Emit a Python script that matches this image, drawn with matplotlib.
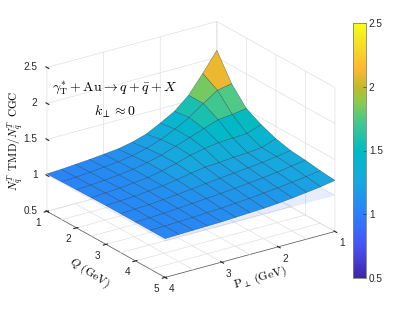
import numpy as np
import matplotlib
matplotlib.use("Agg")
from matplotlib import pyplot as plt
from matplotlib.colors import LinearSegmentedColormap, Normalize
from matplotlib.cm import ScalarMappable

plt.rcParams['font.family'] = ['Liberation Sans', 'DejaVu Sans']
plt.rcParams['mathtext.fontset'] = 'cm'

# grid of the surface
q_vals = [1.0, 1.5, 2.0, 2.5, 3.0, 3.5, 4.0, 4.5, 5.0]
p_vals = [1.0, 1.25, 1.5, 1.75, 2.0, 2.25, 2.5, 2.75, 3.0, 3.25, 3.5, 3.75, 4.0]

# ratio, one row per Q, one column per P
ratio_q10 = [2.10, 1.83, 1.58, 1.41, 1.30, 1.20, 1.14, 1.10, 1.08, 1.06, 1.045, 1.03, 1.02]
ratio_q15 = [1.75, 1.71, 1.58, 1.44, 1.33, 1.24, 1.17, 1.12, 1.09, 1.07, 1.05, 1.035, 1.025]
ratio_q20 = [1.52, 1.49, 1.47, 1.40, 1.33, 1.26, 1.19, 1.14, 1.10, 1.075, 1.055, 1.04, 1.03]
ratio_q25 = [1.41, 1.34, 1.33, 1.32, 1.29, 1.25, 1.19, 1.14, 1.10, 1.08, 1.06, 1.045, 1.035]
ratio_q30 = [1.33, 1.26, 1.24, 1.23, 1.21, 1.20, 1.17, 1.13, 1.10, 1.08, 1.06, 1.05, 1.04]
ratio_q35 = [1.28, 1.25, 1.22, 1.20, 1.18, 1.16, 1.14, 1.115, 1.095, 1.075, 1.06, 1.05, 1.04]
ratio_q40 = [1.26, 1.23, 1.20, 1.175, 1.155, 1.135, 1.115, 1.10, 1.085, 1.07, 1.055, 1.045, 1.04]
ratio_q45 = [1.23, 1.20, 1.175, 1.15, 1.13, 1.11, 1.095, 1.08, 1.07, 1.06, 1.05, 1.045, 1.04]
ratio_q50 = [1.21, 1.175, 1.15, 1.125, 1.105, 1.09, 1.08, 1.07, 1.06, 1.055, 1.05, 1.045, 1.04]

plane_level = 1.0

q_ticks = [1, 2, 3, 4, 5]
p_ticks = [1, 2, 3, 4]
z_ticks = [0.5, 1, 1.5, 2, 2.5]
z_ticklabels = ['0.5', '1', '1.5', '2', '2.5']
q_minor = [1.5, 2.5, 3.5, 4.5]
p_minor = [1.5, 2.5, 3.5]

parula = LinearSegmentedColormap.from_list("parula", [
    (0.0, (0.2422, 0.1504, 0.6603)), (0.125, (0.2810, 0.3228, 0.9579)),
    (0.25, (0.17, 0.50, 0.98)), (0.375, (0.09, 0.66, 0.87)),
    (0.5, (0.0, 0.73, 0.77)), (0.625, (0.30, 0.79, 0.52)),
    (0.70, (0.58, 0.79, 0.28)), (0.75, (0.76, 0.73, 0.16)),
    (0.825, (1.0, 0.72, 0.2)), (0.9, (0.96, 0.85, 0.15)),
    (1.0, (0.9769, 0.9839, 0.0805))])
norm = Normalize(0.5, 2.5)
grid_col = (0.88, 0.88, 0.88)


def main():
    W, H = 415.0, 312.0
    fig = plt.figure(figsize=(4.15, 3.12), dpi=100)

    # square axes, sized so the ortho box lands on the corners of the reference
    L = 322.0
    ax = fig.add_axes([25.6 / W, -2.8 / H, L / W, L / H], projection='3d', proj_type='ortho')
    ax.view_init(elev=22.9, azim=-34.8)
    ax.set_box_aspect((1, 1, 0.755))
    ax.computed_zorder = False

    Q, P = np.meshgrid(q_vals, p_vals, indexing='ij')
    Z = np.array([ratio_q10, ratio_q15, ratio_q20, ratio_q25, ratio_q30,
                  ratio_q35, ratio_q40, ratio_q45, ratio_q50])

    # finer grid on the floor only
    for q in q_minor:
        ax.plot([q, q], [p_ticks[0], p_ticks[-1]], [0.5, 0.5], color=grid_col, lw=0.5, zorder=0)
    for p in p_minor:
        ax.plot([q_ticks[0], q_ticks[-1]], [p, p], [0.5, 0.5], color=grid_col, lw=0.5, zorder=0)

    ax.plot_surface(Q, P, np.full_like(Z, plane_level), color=(0.25, 0.45, 0.95), alpha=0.13,
                    rstride=8, cstride=12, linewidth=0, shade=False, zorder=1)
    ax.plot_surface(Q, P, Z, facecolors=parula(norm(Z)), rstride=1, cstride=1,
                    edgecolor=(0.1, 0.2, 0.3, 0.6), linewidth=0.35, shade=False, zorder=2)

    ax.set_xlim(1, 5)
    ax.set_ylim(4, 1)
    ax.set_zlim(0.5, 2.5)
    ax.set_xticks(q_ticks)
    ax.set_yticks(p_ticks)
    ax.set_zticks(z_ticks)
    ax.set_zticklabels(z_ticklabels)

    for axis in (ax.xaxis, ax.yaxis, ax.zaxis):
        axis.set_pane_color((1, 1, 1, 0))
        axis.pane.set_edgecolor((1, 1, 1, 0))
        axis._axinfo['grid'].update(color=grid_col, linewidth=0.5)
        axis.line.set_color((0.35, 0.35, 0.35))
        axis.line.set_linewidth(0.5)
    ax.zaxis.line.set_color((1, 1, 1, 0))
    ax.zaxis.set_ticks_position('upper')
    ax.tick_params(labelsize=7.2, colors=(0.15, 0.15, 0.15), pad=-4, length=2, width=0.4)

    # nudge the tick labels towards where the reference has them
    for t in ax.get_xticklabels():
        t.set_ha('right')
    for t in ax.get_yticklabels():
        t.set_ha('left')
    for t in ax.get_zticklabels():
        t.set_va('center')
        t.set_ha('right')

    # axis titles and the two annotations
    fig.text(16 / W, 1 - 141 / H, r'$N_{\bar{q}}^{T}\;\;\mathrm{TMD}/N_{\bar{q}}^{T}\;\;\mathrm{CGC}$',
             rotation=90, ha='center', va='center', fontsize=8)
    fig.text(90 / W, 1 - 273 / H, r'$Q\ \mathrm{(GeV)}$', rotation=-33, ha='center', va='center',
             fontsize=8.5)
    fig.text(260 / W, 1 - 278 / H, r'$\mathrm{P}_{\perp}\ \mathrm{(GeV)}$', rotation=16, ha='center', va='center',
             fontsize=8.5)
    fig.text(115 / W, 1 - 88 / H, r'$\gamma_{\mathrm{T}}^{*} + \mathrm{Au} \rightarrow q + \bar{q} + X$',
             ha='center', va='center', fontsize=10)
    fig.text(115 / W, 1 - 112 / H, r'$k_{\perp} \approx 0$', ha='center', va='center', fontsize=10)

    cax = fig.add_axes([353 / W, 1 - 278 / H, 13 / W, 255 / H])
    cb = fig.colorbar(ScalarMappable(norm=norm, cmap=parula), cax=cax)
    cb.set_ticks(z_ticks)
    cb.set_ticklabels(z_ticklabels)
    cb.ax.tick_params(labelsize=7.2, direction='in', length=2, width=0.4, pad=2, colors=(0.15, 0.15, 0.15))
    cb.outline.set_edgecolor((0.5, 0.5, 0.5))
    cb.outline.set_linewidth(0.6)

    fig.savefig("out.png", dpi=100)


if __name__ == "__main__":
    main()
